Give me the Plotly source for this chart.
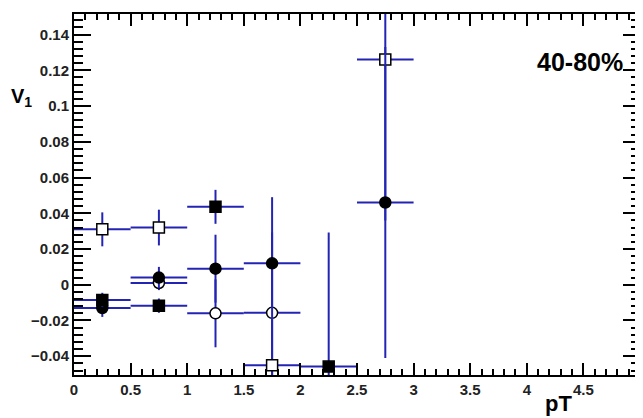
import plotly.graph_objects as go

# Filled squares
fsq_x = [0.25, 0.75, 1.25, 2.25]
fsq_y = [-0.0085, -0.0117, 0.0436, -0.0458]
fsq_ey = [0.004, 0.004, 0.0095, 0.075]

# Filled circles
fci_x = [0.25, 0.75, 1.25, 1.75, 2.75]
fci_y = [-0.013, 0.004, 0.009, 0.012, 0.046]
fci_ey = [0.005, 0.006, 0.019, 0.037, 0.087]

# Open squares
osq_x = [0.25, 0.75, 1.75, 2.75]
osq_y = [0.031, 0.032, -0.045, 0.126]
osq_ey = [0.0095, 0.010, 0.02, 0.09]

# Open circles
oci_x = [0.75, 1.25, 1.75]
oci_y = [0.001, -0.016, -0.0157]
oci_ey = [0.004, 0.019, 0.045]

bin_half = 0.25
ERR_COLOR = "#2424b4"

def trace(x, y, ey, symbol, fill):
    return go.Scatter(
        x=x, y=y, mode="markers",
        marker=dict(symbol=symbol, size=11, color=fill,
                    line=dict(color="black", width=1.5)),
        error_y=dict(type="data", array=ey, color=ERR_COLOR, thickness=2, width=0),
        error_x=dict(type="constant", value=bin_half, color=ERR_COLOR, thickness=2, width=0),
        showlegend=False, cliponaxis=True,
    )

fig = go.Figure()
fig.add_trace(trace(oci_x, oci_y, oci_ey, "circle", "white"))
fig.add_trace(trace(osq_x, osq_y, osq_ey, "square", "white"))
fig.add_trace(trace(fci_x, fci_y, fci_ey, "circle", "black"))
fig.add_trace(trace(fsq_x, fsq_y, fsq_ey, "square", "black"))

tickfont = dict(family="Liberation Sans", size=15, color="#222", weight="bold")
axis_common = dict(
    showgrid=False, zeroline=False, showline=True, linecolor="black", linewidth=2,
    mirror="allticks", ticks="inside", tickcolor="black", tickwidth=2, tickfont=tickfont,
    automargin=False, ticklabeloverflow="allow",
)
fig.update_xaxes(range=[0, 5], dtick=0.5, tick0=0, ticklen=12,
                 minor=dict(ticks="inside", dtick=0.1, ticklen=6, tickcolor="black", tickwidth=2),
                 **axis_common)
fig.update_yaxes(range=[-0.0505, 0.1515], dtick=0.02, tick0=0, ticklen=17,
                 minor=dict(ticks="inside", dtick=0.004, ticklen=9, tickcolor="black", tickwidth=2),
                 **axis_common)

fig.add_annotation(text="V<sub>1</sub>", xref="paper", yref="paper", x=-0.115, y=0.77,
                   xanchor="left", yanchor="middle", showarrow=False,
                   font=dict(family="Liberation Sans", size=20, color="black", weight="bold"))
fig.add_annotation(text="pT", xref="paper", yref="paper", x=0.883, y=-0.078,
                   xanchor="right", yanchor="middle", showarrow=False,
                   font=dict(family="Liberation Sans", size=22, color="black", weight="bold"))
fig.add_annotation(text="40-80%", xref="paper", yref="paper", x=0.973, y=0.867,
                   xanchor="right", yanchor="middle", showarrow=False,
                   font=dict(family="Liberation Sans", size=25, color="black", weight="bold"))

# page body has an 8px default margin, so the figure is shrunk to fit the window
fig.update_layout(
    width=635, height=410,
    margin=dict(l=66, r=3, t=6, b=43, autoexpand=False),
    paper_bgcolor="white", plot_bgcolor="white",
)
fig.write_html("out.html")
